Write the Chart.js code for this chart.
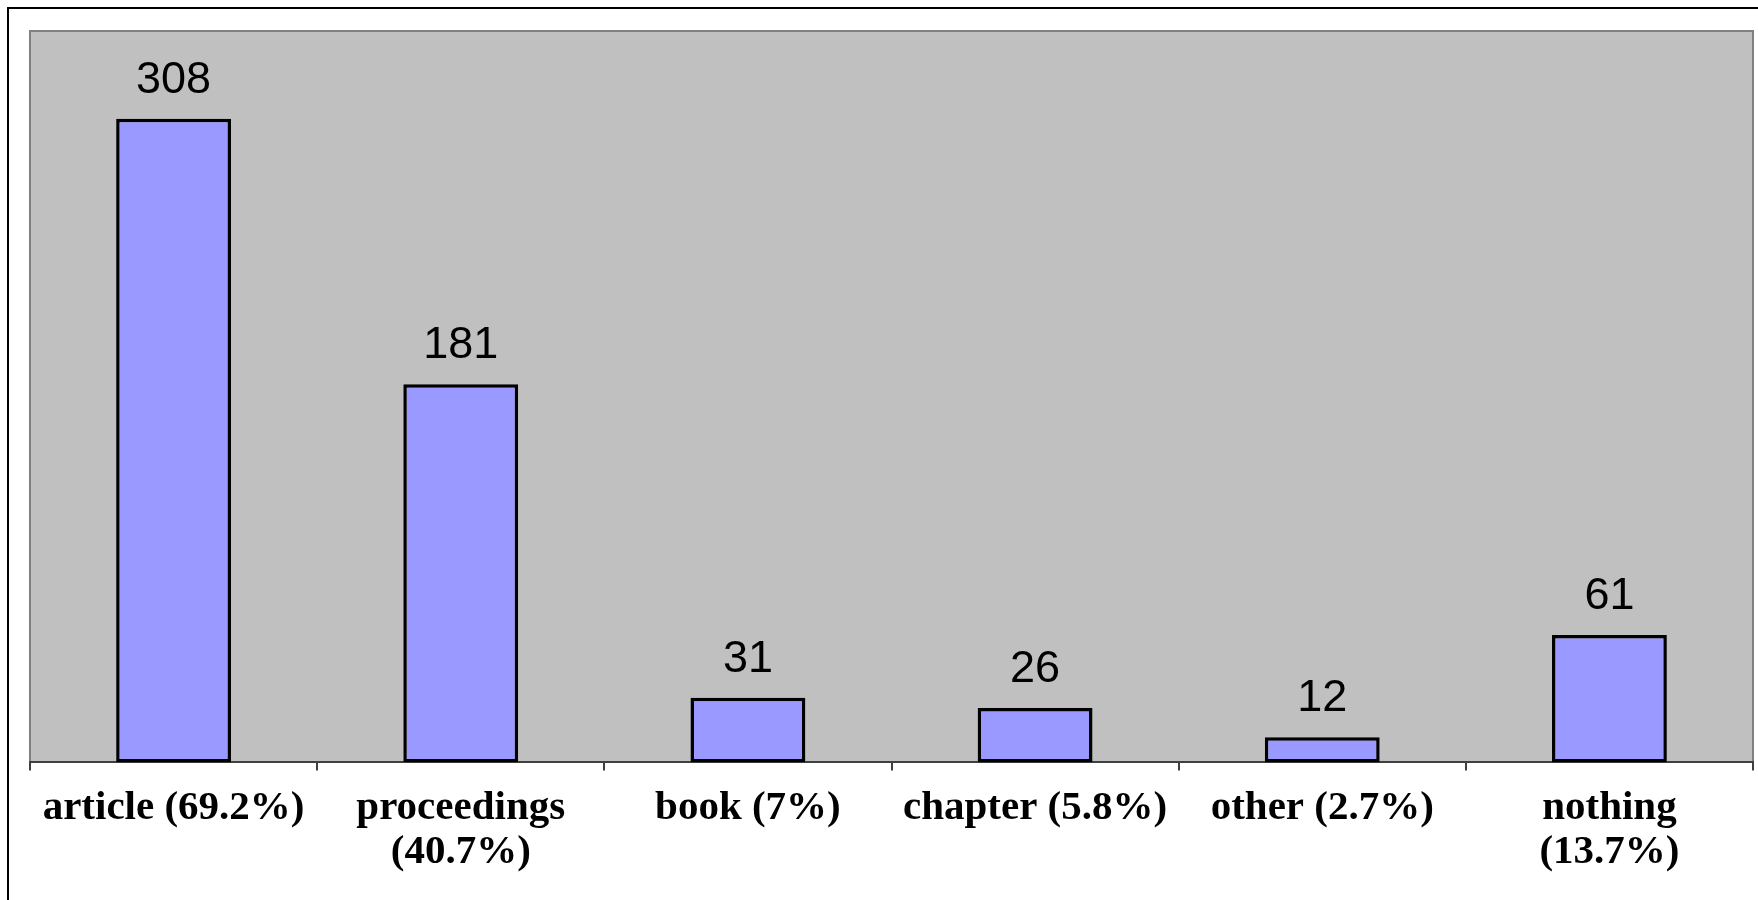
<!DOCTYPE html>
<html>
<head>
<meta charset="utf-8">
<script src="https://cdn.jsdelivr.net/npm/chart.js@4"></script>
<style>
  html, body { margin: 0; padding: 0; background: #fff; }
  #wrap { width: 1758px; height: 900px; }
</style>
</head>
<body>
<div id="wrap"><canvas id="barChart" width="1758" height="900"></canvas></div>
<script>
const categories = ['article (69.2%)', ['proceedings', '(40.7%)'], 'book (7%)', 'chapter (5.8%)', 'other (2.7%)', ['nothing', '(13.7%)']];
const counts = [308, 181, 31, 26, 12, 61];

// grey plot area + outer frame, like the old spreadsheet chart
const plotBg = {
    id: 'plotBg',
    beforeDraw(chart) {
        const ctx = chart.ctx, a = chart.chartArea;
        ctx.save();
        ctx.fillStyle = '#c0c0c0';
        ctx.fillRect(a.left, a.top, a.right - a.left, a.bottom - a.top);
        ctx.strokeStyle = '#808080';
        ctx.lineWidth = 2;
        ctx.beginPath();
        ctx.moveTo(a.left, a.bottom);
        ctx.lineTo(a.left, a.top);
        ctx.lineTo(a.right, a.top);
        ctx.lineTo(a.right, a.bottom);
        ctx.stroke();
        // outer frame
        ctx.strokeStyle = '#000';
        ctx.lineWidth = 2;
        ctx.beginPath();
        ctx.moveTo(8, 900);
        ctx.lineTo(8, 8);
        ctx.lineTo(1758, 8);
        ctx.stroke();
        ctx.restore();
    }
};

const valueLabels = {
    id: 'valueLabels',
    afterDatasetsDraw(chart) {
        const ctx = chart.ctx;
        ctx.save();
        ctx.font = '45px "Liberation Sans", Arial, sans-serif';
        ctx.fillStyle = '#000';
        ctx.textAlign = 'center';
        ctx.textBaseline = 'alphabetic';
        chart.getDatasetMeta(0).data.forEach(function (bar, i) {
            ctx.fillText(String(counts[i]), bar.x, bar.y - 26);
        });
        ctx.restore();
    }
};

document.addEventListener("DOMContentLoaded", function () {
    const ctx = document.getElementById('barChart').getContext('2d');
    new Chart(ctx, {
        type: 'bar',
        data: {
            labels: categories,
            datasets: [{
                data: counts,
                backgroundColor: '#9999ff',
                borderColor: '#000',
                borderWidth: 3.5,
                borderSkipped: false,
                barPercentage: 0.4,
                categoryPercentage: 1
            }]
        },
        options: {
            responsive: false,
            animation: false,
            layout: { padding: { left: 30, top: 31, right: 5, bottom: 9 } },
            plugins: { legend: { display: false }, tooltip: { enabled: false } },
            scales: {
                y: { display: false, min: 0, max: 350 },
                x: {
                    border: { display: true, color: '#404040', width: 2 },
                    grid: { display: true, drawOnChartArea: false, drawTicks: true, tickLength: 8, color: '#404040', lineWidth: 2 },
                    ticks: {
                        color: '#000',
                        autoSkip: false,
                        maxRotation: 0,
                        padding: 16,
                        font: { family: '"Liberation Serif", "Times New Roman", serif', size: 41, weight: 'bold', lineHeight: 1.08 }
                    }
                }
            }
        },
        plugins: [plotBg, valueLabels]
    });
});
</script>
</body>
</html>
